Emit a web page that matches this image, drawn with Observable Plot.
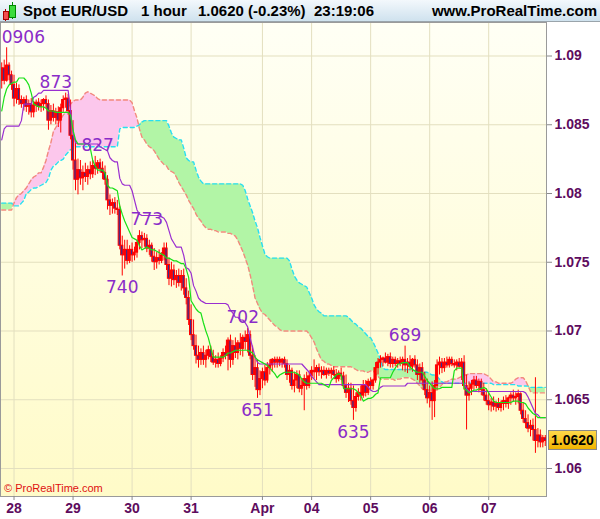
<!DOCTYPE html>
<html><head><meta charset="utf-8">
<script src="https://cdn.jsdelivr.net/npm/d3@7"></script>
<script src="https://cdn.jsdelivr.net/npm/@observablehq/plot@0.6"></script>
<style>
html,body{margin:0;padding:0;background:#fff;}
#wrap{position:relative;width:600px;height:519px;overflow:hidden;font-family:"Liberation Sans",Arial,sans-serif;}
#hdr{position:absolute;left:0;top:0;width:600px;height:21px;background:linear-gradient(#f3f8fc,#cfe2ee);border-bottom:1px solid #9aa4ab;font-weight:bold;font-size:15px;color:#000;}
#hdr span{position:absolute;top:2px;line-height:18px;white-space:nowrap;}
#chart{position:absolute;left:0;top:22px;}
#copy{position:absolute;left:4px;top:482px;font-size:11px;color:#e01010;}
#last{position:absolute;left:548px;width:47px;height:18px;line-height:18px;text-align:center;font-weight:bold;font-size:14px;color:#000;background:linear-gradient(#ffd84a,#f2b400);border:1px solid #8a8a8a;}
.ic{position:absolute;}
</style></head>
<body>
<div id="wrap">
  <div id="hdr">
    <div class="ic" style="left:5px;top:9px;width:1px;height:12px;background:#a00;"></div>
    <div class="ic" style="left:3px;top:11px;width:4px;height:7px;background:#f05050;border:1px solid #a00;"></div>
    <div class="ic" style="left:12px;top:2px;width:1px;height:17px;background:#080;"></div>
    <div class="ic" style="left:9px;top:5px;width:5px;height:11px;background:#3ddc3d;border:1px solid #080;"></div>
    <span style="left:23px">Spot EUR/USD</span>
    <span style="left:141px">1 hour</span>
    <span style="left:198px">1.0620 (-0.23%)</span>
    <span style="left:314px">23:19:06</span>
    <span style="right:3px">www.ProRealTime.com</span>
  </div>
  <div id="chart"></div>
  <div id="copy">© ProRealTime.com</div>
  <div id="last">1.0620</div>
</div>
<script>
// ---- candle data (hourly, EUR/USD) ----
const open = [
1.0882,1.0891,1.0882,1.0893,1.0886,1.0879,1.0869,1.0876,1.0868,1.0865,
1.0868,1.0863,1.0865,1.0859,1.0864,1.0866,1.0863,1.0865,1.0868,1.0865,
1.0853,1.0860,1.0855,1.0859,1.0853,1.0862,1.0868,1.0869,1.0860,1.0842,
1.0824,1.0810,1.0817,1.0811,1.0815,1.0812,1.0817,1.0814,1.0820,1.0818,
1.0822,1.0818,1.0815,1.0810,1.0795,1.0791,1.0793,1.0789,1.0788,1.0762,
1.0755,1.0759,1.0751,1.0759,1.0755,1.0757,1.0764,1.0769,1.0766,1.0767,
1.0760,1.0762,1.0754,1.0750,1.0753,1.0751,1.0755,1.0760,1.0748,1.0738,
1.0744,1.0737,1.0740,1.0735,1.0740,1.0731,1.0724,1.0708,1.0697,1.0689,
1.0682,1.0679,1.0684,1.0679,1.0682,1.0686,1.0681,1.0677,1.0679,1.0676,
1.0680,1.0684,1.0682,1.0693,1.0679,1.0689,1.0684,1.0691,1.0687,1.0695,
1.0692,1.0697,1.0682,1.0668,1.0673,1.0657,1.0665,1.0670,1.0664,1.0673,
1.0675,1.0679,1.0677,1.0679,1.0677,1.0679,1.0676,1.0668,1.0671,1.0660,
1.0664,1.0668,1.0658,1.0660,1.0665,1.0660,1.0667,1.0671,1.0670,1.0673,
1.0670,1.0671,1.0668,1.0671,1.0669,1.0671,1.0668,1.0665,1.0669,1.0667,
1.0660,1.0655,1.0658,1.0649,1.0644,1.0652,1.0655,1.0653,1.0660,1.0655,
1.0663,1.0660,1.0664,1.0673,1.0677,1.0679,1.0680,1.0677,1.0681,1.0676,
1.0679,1.0676,1.0678,1.0676,1.0679,1.0675,1.0677,1.0674,1.0679,1.0675,
1.0668,1.0673,1.0664,1.0657,1.0651,1.0655,1.0649,1.0660,1.0675,1.0677,
1.0673,1.0677,1.0675,1.0679,1.0676,1.0675,1.0677,1.0674,1.0677,1.0660,
1.0653,1.0658,1.0661,1.0664,1.0660,1.0663,1.0657,1.0653,1.0649,1.0646,
1.0648,1.0645,1.0647,1.0644,1.0647,1.0649,1.0647,1.0651,1.0653,1.0651,
1.0652,1.0654,1.0642,1.0636,1.0633,1.0629,1.0631,1.0628,1.0620,1.0624,
1.0619,1.0622];
const high = [
1.0895,1.0897,1.0906,1.0895,1.0889,1.0886,1.0880,1.0879,1.0871,1.0870,
1.0871,1.0868,1.0869,1.0867,1.0868,1.0869,1.0868,1.0869,1.0871,1.0868,
1.0864,1.0865,1.0862,1.0863,1.0865,1.0871,1.0873,1.0872,1.0868,1.0853,
1.0839,1.0825,1.0824,1.0820,1.0822,1.0820,1.0823,1.0824,1.0827,1.0824,
1.0825,1.0823,1.0820,1.0813,1.0799,1.0796,1.0797,1.0795,1.0791,1.0769,
1.0766,1.0766,1.0762,1.0764,1.0761,1.0766,1.0773,1.0772,1.0771,1.0770,
1.0766,1.0764,1.0760,1.0757,1.0759,1.0757,1.0764,1.0764,1.0753,1.0750,
1.0748,1.0744,1.0745,1.0744,1.0745,1.0738,1.0729,1.0719,1.0708,1.0697,
1.0689,1.0687,1.0689,1.0686,1.0689,1.0689,1.0686,1.0682,1.0684,1.0682,
1.0687,1.0689,1.0695,1.0697,1.0693,1.0695,1.0693,1.0698,1.0697,1.0700,
1.0702,1.0700,1.0689,1.0682,1.0679,1.0671,1.0673,1.0675,1.0677,1.0679,
1.0680,1.0681,1.0681,1.0681,1.0680,1.0681,1.0679,1.0675,1.0673,1.0670,
1.0671,1.0671,1.0665,1.0668,1.0670,1.0670,1.0674,1.0679,1.0675,1.0676,
1.0674,1.0674,1.0673,1.0673,1.0673,1.0674,1.0672,1.0671,1.0673,1.0670,
1.0668,1.0662,1.0662,1.0660,1.0655,1.0658,1.0660,1.0664,1.0664,1.0665,
1.0666,1.0665,1.0677,1.0680,1.0682,1.0681,1.0684,1.0683,1.0684,1.0681,
1.0681,1.0680,1.0681,1.0681,1.0689,1.0680,1.0682,1.0680,1.0682,1.0679,
1.0676,1.0677,1.0670,1.0665,1.0660,1.0663,1.0664,1.0679,1.0681,1.0680,
1.0680,1.0681,1.0681,1.0681,1.0679,1.0679,1.0680,1.0680,1.0682,1.0668,
1.0663,1.0664,1.0667,1.0667,1.0665,1.0665,1.0662,1.0658,1.0655,1.0651,
1.0652,1.0649,1.0651,1.0649,1.0652,1.0653,1.0652,1.0655,1.0657,1.0655,
1.0657,1.0655,1.0648,1.0642,1.0639,1.0635,1.0636,1.0666,1.0629,1.0628,
1.0624,1.0624];
const low = [
1.0876,1.0879,1.0881,1.0882,1.0875,1.0863,1.0865,1.0864,1.0862,1.0860,
1.0859,1.0857,1.0855,1.0855,1.0859,1.0860,1.0859,1.0860,1.0862,1.0846,
1.0850,1.0852,1.0850,1.0848,1.0844,1.0859,1.0862,1.0857,1.0839,1.0817,
1.0802,1.0799,1.0806,1.0802,1.0808,1.0806,1.0810,1.0811,1.0813,1.0814,
1.0815,1.0810,1.0806,1.0788,1.0784,1.0785,1.0785,1.0784,1.0759,1.0740,
1.0745,1.0748,1.0749,1.0750,1.0751,1.0753,1.0759,1.0760,1.0761,1.0757,
1.0755,1.0750,1.0744,1.0745,1.0748,1.0749,1.0751,1.0744,1.0733,1.0732,
1.0733,1.0731,1.0732,1.0729,1.0726,1.0719,1.0704,1.0693,1.0686,1.0676,
1.0673,1.0675,1.0675,1.0673,1.0679,1.0677,1.0675,1.0673,1.0673,1.0674,
1.0677,1.0679,1.0671,1.0673,1.0675,1.0680,1.0679,1.0682,1.0681,1.0686,
1.0684,1.0679,1.0664,1.0659,1.0651,1.0653,1.0658,1.0660,1.0662,1.0668,
1.0670,1.0673,1.0673,1.0674,1.0673,1.0673,1.0664,1.0662,1.0657,1.0655,
1.0658,1.0655,1.0653,1.0642,1.0657,1.0658,1.0664,1.0665,1.0664,1.0667,
1.0665,1.0667,1.0665,1.0667,1.0665,1.0667,1.0662,1.0663,1.0664,1.0658,
1.0651,1.0648,1.0646,1.0635,1.0641,1.0649,1.0649,1.0651,1.0652,1.0653,
1.0657,1.0657,1.0662,1.0668,1.0673,1.0674,1.0676,1.0674,1.0673,1.0673,
1.0674,1.0673,1.0674,1.0671,1.0670,1.0669,1.0671,1.0670,1.0673,1.0664,
1.0662,1.0660,1.0653,1.0647,1.0644,1.0635,1.0637,1.0657,1.0668,1.0669,
1.0670,1.0673,1.0673,1.0674,1.0673,1.0671,1.0673,1.0664,1.0657,1.0628,
1.0649,1.0653,1.0657,1.0658,1.0655,1.0653,1.0649,1.0646,1.0642,1.0641,
1.0642,1.0641,1.0642,1.0641,1.0642,1.0644,1.0643,1.0646,1.0648,1.0646,
1.0647,1.0639,1.0633,1.0629,1.0626,1.0623,1.0620,1.0611,1.0615,1.0615,
1.0615,1.0616];
const close = [
1.0891,1.0882,1.0893,1.0886,1.0879,1.0869,1.0876,1.0868,1.0865,1.0868,
1.0863,1.0865,1.0859,1.0864,1.0866,1.0863,1.0865,1.0868,1.0865,1.0853,
1.0860,1.0855,1.0859,1.0853,1.0862,1.0868,1.0869,1.0860,1.0842,1.0824,
1.0810,1.0817,1.0811,1.0815,1.0812,1.0817,1.0814,1.0820,1.0818,1.0822,
1.0818,1.0815,1.0810,1.0795,1.0791,1.0793,1.0789,1.0788,1.0762,1.0755,
1.0759,1.0751,1.0759,1.0755,1.0757,1.0764,1.0769,1.0766,1.0767,1.0760,
1.0762,1.0754,1.0750,1.0753,1.0751,1.0755,1.0760,1.0748,1.0738,1.0744,
1.0737,1.0740,1.0735,1.0740,1.0731,1.0724,1.0708,1.0697,1.0689,1.0682,
1.0679,1.0684,1.0679,1.0682,1.0686,1.0681,1.0677,1.0679,1.0676,1.0680,
1.0684,1.0682,1.0693,1.0679,1.0689,1.0684,1.0691,1.0687,1.0695,1.0692,
1.0697,1.0682,1.0668,1.0673,1.0657,1.0665,1.0670,1.0664,1.0673,1.0675,
1.0679,1.0677,1.0679,1.0677,1.0679,1.0676,1.0668,1.0671,1.0660,1.0664,
1.0668,1.0658,1.0660,1.0665,1.0660,1.0667,1.0671,1.0670,1.0673,1.0670,
1.0671,1.0668,1.0671,1.0669,1.0671,1.0668,1.0665,1.0669,1.0667,1.0660,
1.0655,1.0658,1.0649,1.0644,1.0652,1.0655,1.0653,1.0660,1.0655,1.0663,
1.0660,1.0664,1.0673,1.0677,1.0679,1.0680,1.0677,1.0681,1.0676,1.0679,
1.0676,1.0678,1.0676,1.0679,1.0675,1.0677,1.0674,1.0679,1.0675,1.0668,
1.0673,1.0664,1.0657,1.0651,1.0655,1.0649,1.0660,1.0675,1.0677,1.0673,
1.0677,1.0675,1.0679,1.0676,1.0675,1.0677,1.0674,1.0677,1.0660,1.0653,
1.0658,1.0661,1.0664,1.0660,1.0663,1.0657,1.0653,1.0649,1.0646,1.0648,
1.0645,1.0647,1.0644,1.0647,1.0649,1.0647,1.0651,1.0653,1.0651,1.0652,
1.0654,1.0642,1.0636,1.0633,1.0629,1.0631,1.0628,1.0620,1.0624,1.0619,
1.0622,1.0620];
// ---- Ichimoku lines ----
const tenkan = [
1.0860,1.0870,1.0876,1.0879,1.0880,1.0881,1.0881,1.0884,1.0884,1.0884,
1.0882,1.0879,1.0873,1.0865,1.0864,1.0863,1.0863,1.0863,1.0862,1.0860,
1.0860,1.0860,1.0859,1.0859,1.0859,1.0859,1.0859,1.0859,1.0857,1.0846,
1.0839,1.0836,1.0836,1.0836,1.0836,1.0836,1.0833,1.0824,1.0820,1.0817,
1.0817,1.0817,1.0815,1.0806,1.0804,1.0804,1.0803,1.0802,1.0791,1.0785,
1.0780,1.0776,1.0772,1.0768,1.0767,1.0766,1.0762,1.0759,1.0760,1.0761,
1.0760,1.0759,1.0759,1.0758,1.0757,1.0756,1.0755,1.0753,1.0753,1.0752,
1.0751,1.0751,1.0750,1.0749,1.0749,1.0745,1.0739,1.0722,1.0719,1.0716,
1.0714,1.0713,1.0706,1.0700,1.0695,1.0688,1.0681,1.0681,1.0681,1.0681,
1.0681,1.0682,1.0684,1.0684,1.0685,1.0686,1.0686,1.0686,1.0686,1.0686,
1.0686,1.0685,1.0684,1.0681,1.0679,1.0678,1.0677,1.0676,1.0675,1.0673,
1.0671,1.0669,1.0666,1.0668,1.0669,1.0670,1.0670,1.0670,1.0670,1.0670,
1.0669,1.0668,1.0665,1.0663,1.0662,1.0662,1.0662,1.0662,1.0662,1.0662,
1.0662,1.0661,1.0660,1.0659,1.0664,1.0666,1.0668,1.0669,1.0668,1.0658,
1.0658,1.0658,1.0658,1.0658,1.0657,1.0655,1.0653,1.0649,1.0650,1.0651,
1.0651,1.0652,1.0654,1.0655,1.0666,1.0666,1.0666,1.0666,1.0666,1.0670,
1.0673,1.0676,1.0676,1.0677,1.0677,1.0677,1.0674,1.0672,1.0671,1.0670,
1.0670,1.0670,1.0667,1.0664,1.0662,1.0660,1.0658,1.0658,1.0658,1.0659,
1.0659,1.0659,1.0659,1.0659,1.0671,1.0673,1.0673,1.0673,1.0658,1.0657,
1.0655,1.0656,1.0657,1.0657,1.0658,1.0658,1.0659,1.0658,1.0655,1.0652,
1.0649,1.0648,1.0648,1.0648,1.0648,1.0648,1.0648,1.0648,1.0649,1.0649,
1.0649,1.0648,1.0648,1.0647,1.0644,1.0642,1.0640,1.0639,1.0637,1.0637,
1.0637,1.0637];
const kijun = [
1.0839,1.0847,1.0849,1.0849,1.0849,1.0849,1.0849,1.0849,1.0853,1.0865,
1.0865,1.0865,1.0865,1.0870,1.0871,1.0873,1.0873,1.0875,1.0875,1.0875,
1.0875,1.0875,1.0875,1.0875,1.0875,1.0875,1.0875,1.0875,1.0860,1.0844,
1.0837,1.0836,1.0836,1.0836,1.0836,1.0836,1.0836,1.0836,1.0836,1.0836,
1.0834,1.0833,1.0832,1.0831,1.0826,1.0824,1.0823,1.0823,1.0811,1.0807,
1.0806,1.0806,1.0806,1.0802,1.0795,1.0788,1.0785,1.0784,1.0784,1.0784,
1.0784,1.0784,1.0784,1.0784,1.0784,1.0783,1.0782,1.0779,1.0773,1.0767,
1.0764,1.0761,1.0761,1.0761,1.0755,1.0746,1.0745,1.0742,1.0733,1.0729,
1.0724,1.0722,1.0721,1.0720,1.0720,1.0720,1.0720,1.0720,1.0720,1.0720,
1.0720,1.0720,1.0719,1.0715,1.0713,1.0710,1.0710,1.0708,1.0708,1.0706,
1.0703,1.0695,1.0688,1.0681,1.0677,1.0676,1.0676,1.0676,1.0676,1.0676,
1.0676,1.0676,1.0676,1.0676,1.0676,1.0676,1.0676,1.0676,1.0676,1.0676,
1.0676,1.0676,1.0676,1.0674,1.0672,1.0670,1.0667,1.0665,1.0663,1.0661,
1.0661,1.0661,1.0661,1.0661,1.0661,1.0661,1.0661,1.0661,1.0661,1.0661,
1.0661,1.0661,1.0661,1.0661,1.0661,1.0661,1.0661,1.0661,1.0661,1.0659,
1.0657,1.0656,1.0656,1.0657,1.0659,1.0660,1.0660,1.0660,1.0660,1.0660,
1.0660,1.0660,1.0660,1.0660,1.0660,1.0662,1.0662,1.0662,1.0662,1.0662,
1.0662,1.0662,1.0662,1.0662,1.0662,1.0662,1.0662,1.0662,1.0662,1.0662,
1.0662,1.0662,1.0662,1.0662,1.0662,1.0662,1.0662,1.0662,1.0662,1.0658,
1.0656,1.0656,1.0656,1.0656,1.0656,1.0656,1.0656,1.0656,1.0656,1.0656,
1.0656,1.0656,1.0656,1.0656,1.0656,1.0656,1.0656,1.0656,1.0656,1.0656,
1.0656,1.0656,1.0656,1.0655,1.0652,1.0648,1.0644,1.0640,1.0639,1.0637,
1.0637,1.0637];
const spanA = [
1.0793,1.0793,1.0793,1.0793,1.0793,1.0791,1.0791,1.0791,1.0793,1.0795,
1.0800,1.0801,1.0803,1.0804,1.0804,1.0805,1.0806,1.0807,1.0808,1.0811,
1.0817,1.0820,1.0821,1.0823,1.0824,1.0825,1.0828,1.0830,1.0832,1.0833,
1.0834,1.0834,1.0834,1.0834,1.0834,1.0834,1.0834,1.0834,1.0834,1.0834,
1.0834,1.0834,1.0834,1.0834,1.0834,1.0834,1.0834,1.0834,1.0847,1.0848,
1.0848,1.0848,1.0848,1.0848,1.0848,1.0849,1.0850,1.0852,1.0853,1.0853,
1.0853,1.0853,1.0853,1.0853,1.0853,1.0853,1.0853,1.0853,1.0849,1.0844,
1.0841,1.0840,1.0839,1.0839,1.0833,1.0826,1.0824,1.0823,1.0823,1.0817,
1.0812,1.0809,1.0807,1.0807,1.0807,1.0807,1.0807,1.0807,1.0807,1.0807,
1.0807,1.0807,1.0807,1.0807,1.0807,1.0807,1.0807,1.0807,1.0806,1.0802,
1.0796,1.0791,1.0786,1.0780,1.0775,1.0768,1.0762,1.0756,1.0754,1.0753,
1.0753,1.0753,1.0753,1.0753,1.0753,1.0753,1.0753,1.0751,1.0745,1.0740,
1.0737,1.0735,1.0734,1.0733,1.0732,1.0728,1.0724,1.0719,1.0716,1.0714,
1.0713,1.0711,1.0711,1.0711,1.0711,1.0711,1.0711,1.0711,1.0711,1.0711,
1.0711,1.0710,1.0708,1.0706,1.0705,1.0703,1.0702,1.0700,1.0698,1.0696,
1.0695,1.0692,1.0688,1.0684,1.0679,1.0673,1.0672,1.0672,1.0672,1.0672,
1.0672,1.0672,1.0672,1.0672,1.0672,1.0672,1.0672,1.0672,1.0671,1.0671,
1.0669,1.0669,1.0670,1.0670,1.0669,1.0668,1.0668,1.0667,1.0665,1.0663,
1.0662,1.0662,1.0662,1.0662,1.0662,1.0662,1.0662,1.0662,1.0662,1.0662,
1.0662,1.0662,1.0662,1.0662,1.0662,1.0662,1.0662,1.0662,1.0662,1.0662,
1.0661,1.0661,1.0661,1.0661,1.0661,1.0661,1.0661,1.0661,1.0661,1.0661,
1.0660,1.0660,1.0660,1.0660,1.0660,1.0659,1.0659,1.0659,1.0659,1.0659,
1.0659,1.0659];
const spanB = [
1.0788,1.0788,1.0788,1.0788,1.0788,1.0793,1.0797,1.0799,1.0800,1.0802,
1.0804,1.0807,1.0810,1.0812,1.0813,1.0815,1.0815,1.0819,1.0824,1.0831,
1.0837,1.0845,1.0848,1.0851,1.0854,1.0857,1.0859,1.0862,1.0865,1.0867,
1.0868,1.0868,1.0868,1.0870,1.0873,1.0874,1.0873,1.0872,1.0871,1.0869,
1.0868,1.0868,1.0868,1.0868,1.0868,1.0868,1.0868,1.0868,1.0868,1.0868,
1.0868,1.0868,1.0868,1.0866,1.0860,1.0855,1.0847,1.0841,1.0839,1.0836,
1.0834,1.0833,1.0831,1.0828,1.0825,1.0823,1.0821,1.0820,1.0817,1.0816,
1.0815,1.0812,1.0808,1.0805,1.0802,1.0799,1.0795,1.0792,1.0789,1.0785,
1.0782,1.0780,1.0777,1.0775,1.0774,1.0774,1.0773,1.0773,1.0772,1.0772,
1.0772,1.0772,1.0771,1.0771,1.0770,1.0769,1.0766,1.0762,1.0758,1.0753,
1.0748,1.0741,1.0733,1.0724,1.0720,1.0716,1.0713,1.0712,1.0710,1.0708,
1.0706,1.0704,1.0703,1.0701,1.0700,1.0700,1.0700,1.0700,1.0700,1.0700,
1.0700,1.0700,1.0700,1.0700,1.0700,1.0698,1.0695,1.0692,1.0687,1.0683,
1.0679,1.0678,1.0676,1.0676,1.0675,1.0674,1.0674,1.0674,1.0674,1.0674,
1.0674,1.0674,1.0674,1.0673,1.0672,1.0671,1.0671,1.0671,1.0670,1.0670,
1.0671,1.0671,1.0669,1.0667,1.0665,1.0665,1.0665,1.0665,1.0665,1.0665,
1.0664,1.0665,1.0665,1.0666,1.0666,1.0666,1.0666,1.0665,1.0664,1.0662,
1.0660,1.0658,1.0657,1.0657,1.0657,1.0657,1.0657,1.0657,1.0659,1.0661,
1.0663,1.0663,1.0664,1.0665,1.0665,1.0665,1.0666,1.0667,1.0668,1.0668,
1.0669,1.0669,1.0669,1.0669,1.0669,1.0669,1.0669,1.0668,1.0667,1.0665,
1.0663,1.0663,1.0662,1.0662,1.0662,1.0662,1.0662,1.0662,1.0663,1.0665,
1.0666,1.0666,1.0666,1.0664,1.0660,1.0656,1.0655,1.0655,1.0655,1.0655,
1.0655,1.0655];
// ---- axis ticks ----
const dayLabels = ["28","29","30","31","Apr","04","05","06","07"];
const dayIndex = [5, 29, 53, 77, 106, 126, 150, 174, 198];
const priceTicks = [1.06, 1.065, 1.07, 1.075, 1.08, 1.085, 1.09];
const priceTickLabels = ["1.06","1.065","1.07","1.075","1.08","1.085","1.09"];
// ---- swing annotations ----
const noteText  = ["0906","873","827","773","740","702","651","635","689"];
const noteIndex = [0, 22, 39, 59, 49, 98, 104, 143, 164];
const notePrice = [1.0906, 1.0873, 1.0827, 1.0773, 1.0740, 1.0702, 1.0651, 1.0635, 1.0689];
const noteSide  = ["first","high","high","high","low","high","low","low","high"];
const lastPrice = 1.0620;

const N = close.length;
const bars = d3.range(N).map(i => ({i, o: open[i], h: high[i], l: low[i], c: close[i]}));
const ichi = d3.range(N).map(i => ({i, t: tenkan[i], k: kijun[i], a: spanA[i], b: spanB[i]}));
const notes = noteText.map((t, j) => ({t, i: noteIndex[j], p: notePrice[j], side: noteSide[j]}));

const red = "#ff0000";
const noteStyle = {x: "i", y: "p", text: "t", fill: "#8a2cc8", fontSize: 17, fontFamily: "DejaVu Sans", lineAnchor: "middle"};
const chart = Plot.plot({
  width: 600, height: 497,
  marginLeft: 0, marginRight: 54, marginTop: 0, marginBottom: 23,
  style: {background: "transparent", fontFamily: "Liberation Sans, Arial, sans-serif", overflow: "visible"},
  x: {domain: [-0.5, N - 0.5], axis: null, label: null},
  y: {domain: [1.0579636, 1.0924364], axis: null, label: null},
  marks: [
    Plot.frame({fill: "#fffde0", stroke: null}),
    Plot.gridY(priceTicks, {stroke: "#e3dfbf", strokeOpacity: 1}),
    Plot.gridX(dayIndex, {stroke: "#e3dfbf", strokeOpacity: 1}),
    Plot.areaY(ichi, {x: "i", y1: "b", y2: d => Math.max(d.a, d.b), fill: "#b2f5a6"}),
    Plot.areaY(ichi, {x: "i", y1: "a", y2: d => Math.max(d.a, d.b), fill: "#fcc7ec"}),
    Plot.lineY(ichi, {x: "i", y: "a", stroke: "#28def0", strokeWidth: 1.4, strokeDasharray: "4,3"}),
    Plot.lineY(ichi, {x: "i", y: "b", stroke: "#f28a7c", strokeWidth: 1.4, strokeDasharray: "4,3"}),
    Plot.ruleX(bars, {x: "i", y1: "l", y2: "h", stroke: red, strokeWidth: 1}),
    Plot.rect(bars, {filter: d => d.c >= d.o, x1: d => d.i - 0.45, x2: d => d.i + 0.45, y1: "o", y2: "c", fill: red, stroke: red, strokeWidth: 1}),
    Plot.rect(bars, {filter: d => d.c < d.o, x1: d => d.i - 0.45, x2: d => d.i + 0.45, y1: "o", y2: "c", fill: "#3a2c8c", stroke: red, strokeWidth: 1}),
    Plot.lineY(ichi, {x: "i", y: "k", stroke: "#9a2fd0", strokeWidth: 1.2}),
    Plot.lineY(ichi, {x: "i", y: "t", stroke: "#18e018", strokeWidth: 1.2}),
    Plot.text(notes, {...noteStyle, filter: d => d.side === "first", dy: -10, dx: 0, textAnchor: "start"}),
    Plot.text(notes, {...noteStyle, filter: d => d.side === "high", dy: -11}),
    Plot.text(notes, {...noteStyle, filter: d => d.side === "low", dy: 12}),
    Plot.frame({stroke: "#9a9a9a"}),
    Plot.axisY(priceTicks, {anchor: "right", label: null, tickSize: 5, tickPadding: 3,
      tickFormat: d => priceTickLabels[priceTicks.indexOf(d)],
      fontSize: 14, fontWeight: "bold", fill: "#5e0c5e", stroke: "#8a8a8a"}),
    Plot.axisX(dayIndex, {anchor: "bottom", label: null, tickSize: 4, tickPadding: 3,
      tickFormat: d => dayLabels[dayIndex.indexOf(d)],
      fontSize: 14, fontWeight: "bold", fill: "#5e0c5e", stroke: "#8a8a8a"})
  ]
});

// plot background gradient
const ns = "http://www.w3.org/2000/svg";
const defs = document.createElementNS(ns, "defs");
defs.innerHTML = '<linearGradient id="bgGrad" x1="0" y1="0" x2="0" y2="1"><stop offset="0" stop-color="#fffff5"/><stop offset="1" stop-color="#fffbc8"/></linearGradient>';
chart.insertBefore(defs, chart.firstChild);
const fr = chart.querySelector('[aria-label="frame"]');
if (fr) { const r = fr.tagName.toLowerCase() === "rect" ? fr : fr.querySelector("rect"); if (r) r.setAttribute("fill", "url(#bgGrad)"); }

document.getElementById("chart").appendChild(chart);
const yy = chart.scale("y").apply(lastPrice);
document.getElementById("last").style.top = (22 + yy - 10) + "px";
</script>
</body></html>
